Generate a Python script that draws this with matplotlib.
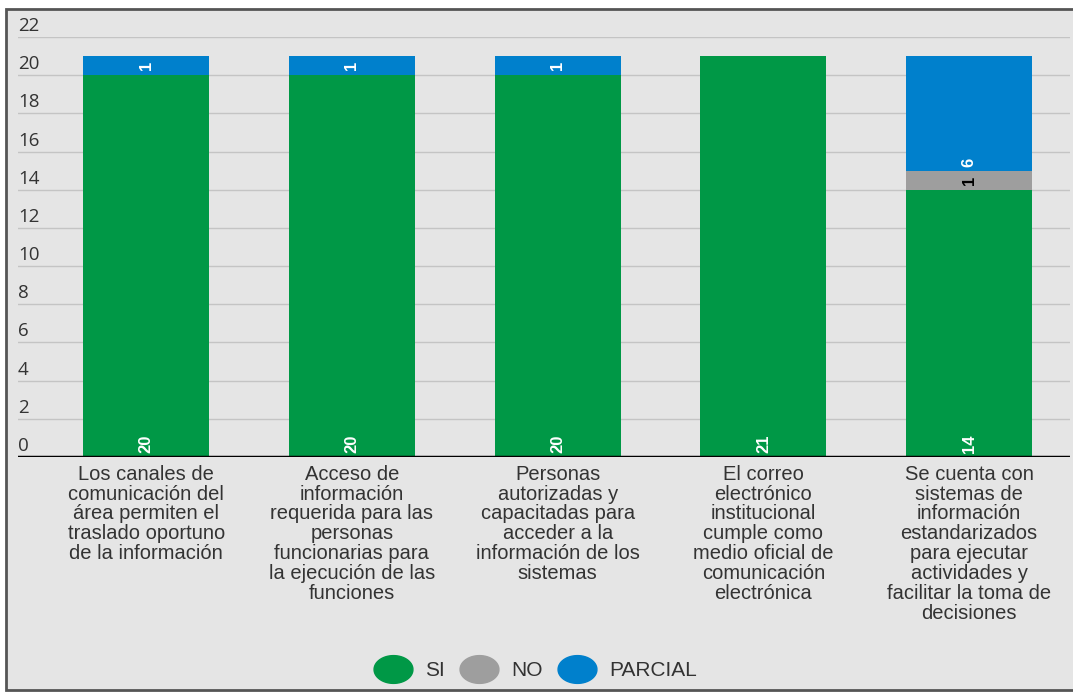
import numpy as np
import matplotlib.pyplot as plt
from matplotlib.patches import Rectangle
from matplotlib.lines import Line2D
from matplotlib.path import Path
import matplotlib.transforms as mtransforms

categories = [
    "Los canales de\ncomunicación del\nárea permiten el\ntraslado oportuno\nde la información",
    "Acceso de\ninformación\nrequerida para las\npersonas\nfuncionarias para\nla ejecución de las\nfunciones",
    "Personas\nautorizadas y\ncapacitadas para\nacceder a la\ninformación de los\nsistemas",
    "El correo\nelectrónico\ninstitucional\ncumple como\nmedio oficial de\ncomunicación\nelectrónica",
    "Se cuenta con\nsistemas de\ninformación\nestandarizados\npara ejecutar\nactividades y\nfacilitar la toma de\ndecisiones",
]
si = [20, 20, 20, 21, 14]
no = [0, 0, 0, 0, 1]
parcial = [1, 1, 1, 0, 6]
series_names = ["SI", "NO", "PARCIAL"]
colors = ["#009846", "#9e9e9e", "#0080cc"]
label_colors = ["white", "black", "white"]
yticks = list(range(0, 23, 2))

W, H = 1073, 694
fig = plt.figure(figsize=(W / 100, H / 100), dpi=100)
fig.patch.set_facecolor("white")

# grey panel with dark border
fig.patches.append(Rectangle((6 / W, 1 - 690 / H), 1.2, (690 - 9) / H,
                             transform=fig.transFigure, facecolor="#e5e5e5",
                             edgecolor="#555555", linewidth=2, zorder=-10))

ax = fig.add_axes([18 / W, 1 - 457 / H, (1070 - 18) / W, (457 - 37) / H])
ax.set_zorder(1)
ax.set_facecolor("none")
x = np.arange(len(categories))
ax.set_xlim(-0.623, 4.49)
ax.set_ylim(0, 22)

for v in yticks[1:]:
    ax.axhline(v, color="#c4c4c4", linewidth=1, zorder=1)
ax.axhline(0, color="black", linewidth=2.5, zorder=4)

bottoms = np.zeros(len(categories))
for vals, name, col, lcol in zip([si, no, parcial], series_names, colors, label_colors):
    vals = np.array(vals, dtype=float)
    ax.bar(x, vals, width=0.613, bottom=bottoms, color=col, zorder=2)
    for xi, b, v in zip(x, bottoms, vals):
        if v > 0:
            if v <= 1:
                ypos = b + v / 2
                va = "center"
            else:
                ypos = b + 0.2
                va = "bottom"
            ax.text(xi, ypos, f"{int(v)}", rotation=90, ha="center", va=va,
                    color=lcol, fontsize=12, fontweight="bold",
                    family="Liberation Sans", zorder=5)
    bottoms += vals

ax.set_xticks([])
ax.set_yticks([])
for s in ax.spines.values():
    s.set_visible(False)

off = mtransforms.offset_copy(ax.transData, fig=fig, x=0, y=2, units="dots")
blend = mtransforms.blended_transform_factory(ax.transAxes, off)
for v in yticks:
    ax.text(0.0, v, str(v), transform=blend, ha="left", va="bottom",
            fontsize=13.5, color="#333333", family="Open Sans", zorder=3)

for xi, lab in zip(x, categories):
    ax.text(xi, -0.4, lab, ha="center", va="top", fontsize=14.5,
            color="#333333", family="Liberation Sans", linespacing=1.06,
            clip_on=False)

t = np.linspace(0, 2 * np.pi, 60)
ellipse = Path(np.column_stack([1.4 * np.cos(t), np.sin(t)]))
handles = [Line2D([], [], marker=ellipse, linestyle="none", markersize=28,
                  markerfacecolor=c, markeredgecolor=c) for c in colors]
fig.legend(handles, series_names, loc="center", bbox_to_anchor=(0.5, 1 - 671 / H),
           ncol=3, frameon=False, handletextpad=0.75, columnspacing=0.85,
           handlelength=1.6,
           prop={"family": "Liberation Sans", "size": 15},
           labelcolor="#333333")

fig.savefig("out.png", dpi=100)
